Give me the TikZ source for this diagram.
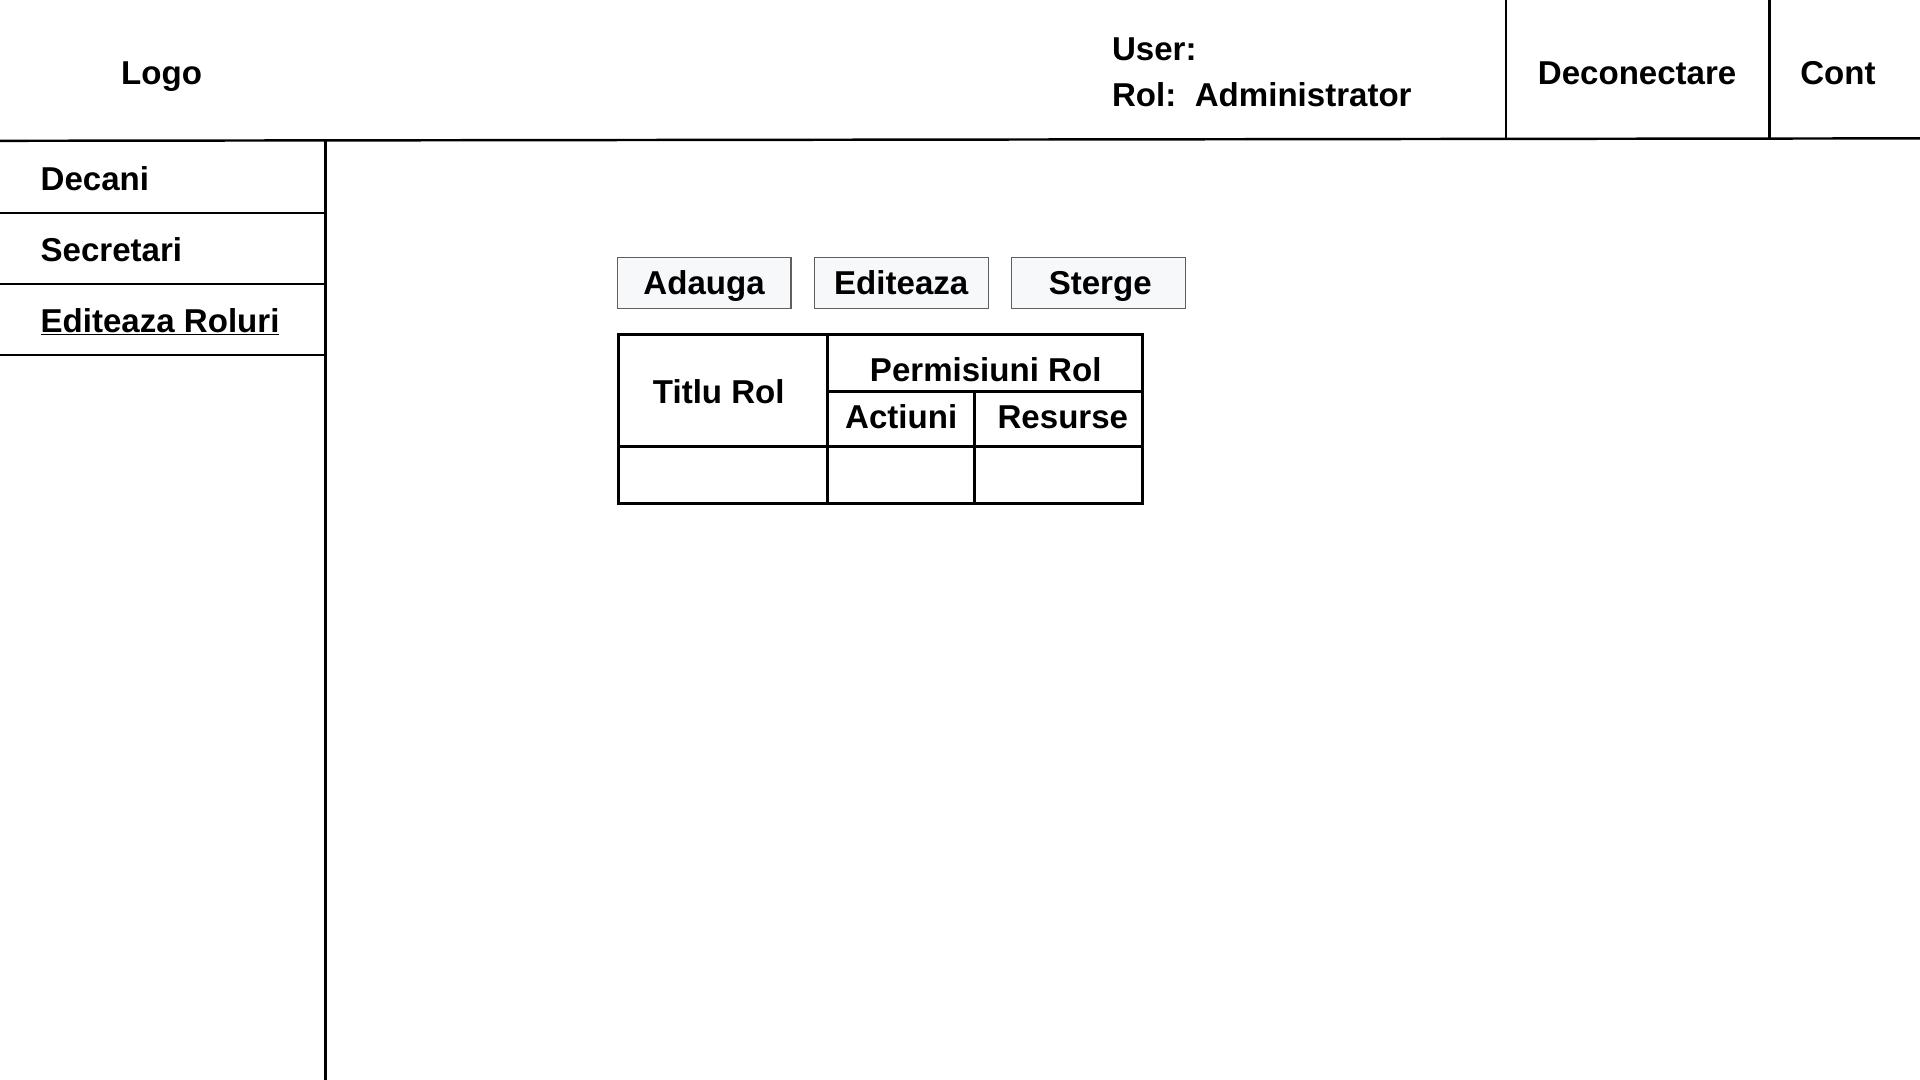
\documentclass[tikz,border=0pt]{standalone}
\usepackage{fontspec}
\setmainfont{Liberation Sans}
\usepackage{xcolor}
\usepackage{tikz}
\colorlet{strokeColor}{black}
\colorlet{textColor}{black}
\definecolor{buttonFill}{RGB}{247,248,250}
\definecolor{buttonStroke}{RGB}{95,95,95}

\begin{document}
\begin{tikzpicture}[
    x=1pt,
    y=-1pt,
    labelText/.style={
      color=textColor,
      inner sep=0pt,
      text height=19.4pt,
      text depth=0pt,
      font=\fontsize{27}{32}\selectfont\bfseries,
    },
    menuText/.style={labelText, anchor=west},
    buttonBox/.style={
      labelText,
      draw=buttonStroke,
      line width=1pt,
      fill=buttonFill,
      minimum width=142pt,
      minimum height=42pt,
    },
    frameLine/.style={color=strokeColor, line width=2pt},
    tableLine/.style={color=strokeColor, line width=2.5pt},
  ]
    \useasboundingbox (0, 0) rectangle (1568, 882);
    \begin{scope}
      % header bar
      \draw[frameLine] (0, 115) -- (1568, 113);
      \draw[frameLine] (1230, 0) -- (1230, 113);
      \draw[frameLine] (1445, 0) -- (1445, 113);
      % side menu
      \draw[frameLine] (266, 115) -- (266, 882);
      \foreach \y in {174, 232, 290}
        \draw[frameLine] (0, \y) -- (266, \y);
      % role table
      \draw[tableLine] (505, 273) rectangle (933, 411);
      \draw[tableLine] (676, 273) -- (676, 411);
      \draw[tableLine] (676, 320) -- (933, 320);
      \draw[tableLine] (505, 365) -- (933, 365);
      \draw[tableLine] (796, 320) -- (796, 411);
    \end{scope}
    \node[labelText] (logo) at (132, 59) {Logo};
    \node[menuText] (user) at (908, 40) {User:};
    \node[menuText] (role) at (908, 77) {Rol:\hspace{0.56em}Administrator};
    \node[labelText] (logout) at (1337, 59) {Deconectare};
    \node[labelText] (account) at (1501, 59) {Cont};
    \node[menuText] (deans) at (33, 146) {Decani};
    \node[menuText] (secretaries) at (33, 204) {Secretari};
    \node[menuText] (editRoles) at (33, 262) {\underline{Editeaza Roluri}};
    \node[buttonBox] (addButton) at (575, 231) {Adauga};
    \node[buttonBox] (editButton) at (736, 231) {Editeaza};
    \node[buttonBox] (deleteButton) at (897, 231) {\hspace{3pt}Sterge};
    \node[labelText] (roleTitle) at (587, 320) {Titlu Rol};
    \node[labelText] (permissions) at (805, 302) {Permisiuni Rol};
    \node[labelText] (actions) at (736, 340) {Actiuni};
    \node[labelText] (resources) at (868, 340) {Resurse};
  \end{tikzpicture}
\end{document}
